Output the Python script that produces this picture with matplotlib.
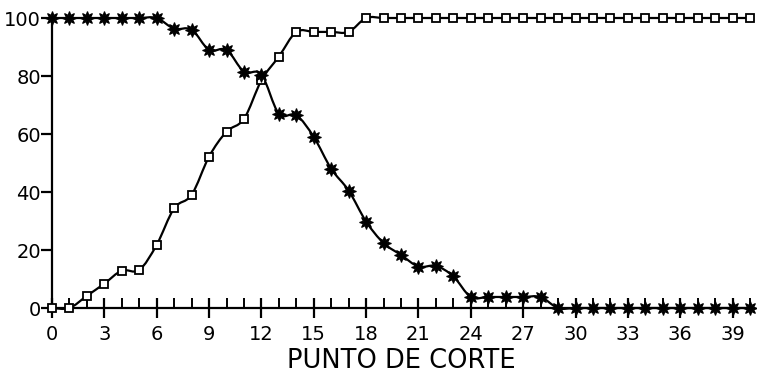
import numpy as np
import matplotlib
matplotlib.use("Agg")
import matplotlib.pyplot as plt
from matplotlib.path import Path
from matplotlib.patches import PathPatch

x = list(range(41))
stars = [100, 100, 100, 100, 100, 100, 100, 96.3, 96, 89, 89, 81.5, 80.5, 67, 66.5, 59,
         48, 40.5, 29.8, 22.4, 18.3, 14.3, 14.5, 10.9, 3.8, 3.8, 3.8, 3.8, 3.8,
         0, 0, 0, 0, 0, 0, 0, 0, 0, 0, 0, 0]
squares = [0, 0, 4.2, 8.4, 12.9, 13.1, 21.8, 34.4, 39, 52.2, 60.8, 65.2, 78.5, 86.7, 95.2,
           95.2, 95.2, 95.2, 100, 100, 100, 100, 100, 100, 100, 100, 100, 100, 100,
           100, 100, 100, 100, 100, 100, 100, 100, 100, 100, 100, 100]
xticks = list(range(0, 40, 3))
yticks = [0, 20, 40, 60, 80, 100]
xlabel = "PUNTO DE CORTE"

plt.rcParams['font.family'] = ['DejaVu Sans']

fig = plt.figure(figsize=(7.57, 3.75), dpi=100)
ax = fig.add_axes([52/757, 1-308/375, 698/757, 290/375])
ax.set_xlim(0, 40)
ax.set_ylim(0, 100)


def smooth_path(xs, ys):
    xs = np.asarray(xs, float)
    ys = np.asarray(ys, float)
    verts = [(xs[0], ys[0])]
    codes = [Path.MOVETO]
    n = len(xs)
    for i in range(n - 1):
        p0 = (xs[max(i-1, 0)], ys[max(i-1, 0)])
        p1 = (xs[i], ys[i])
        p2 = (xs[i+1], ys[i+1])
        p3 = (xs[min(i+2, n-1)], ys[min(i+2, n-1)])
        t = 0.5
        c1 = (p1[0] + (p2[0]-p0[0])*t/3, p1[1] + (p2[1]-p0[1])*t/3)
        c2 = (p2[0] - (p3[0]-p1[0])*t/3, p2[1] - (p3[1]-p1[1])*t/3)
        verts += [c1, c2, p2]
        codes += [Path.CURVE4]*3
    return Path(verts, codes)


for ys in (stars, squares):
    ax.add_patch(PathPatch(smooth_path(x, ys), fill=False, lw=1.6,
                           edgecolor='black', clip_on=False, zorder=2))

ax.plot(x, squares, linestyle='none', marker='s', markersize=6.3,
        markerfacecolor='white', markeredgecolor='black', markeredgewidth=1.3,
        clip_on=False, zorder=3)
ax.plot(x, stars, linestyle='none', marker=(8, 1, 0), markersize=10,
        markerfacecolor='black', markeredgecolor='black', markeredgewidth=0.8,
        clip_on=False, zorder=4)

for s in ('top', 'right'):
    ax.spines[s].set_visible(False)
ax.spines['left'].set_linewidth(1.6)
ax.spines['bottom'].set_linewidth(1.6)

ax.set_xticks(xticks)
ax.set_xticks(list(range(41)), minor=True)
ax.set_yticks(yticks)
ax.tick_params(axis='x', which='major', direction='inout', length=14, width=1.6,
               labelsize=14, pad=5)
ax.tick_params(axis='x', which='minor', direction='in', length=7, width=1.4)
ax.tick_params(axis='y', which='major', direction='out', length=8, width=1.6,
               labelsize=14, pad=0)
ax.set_xlabel(xlabel, fontsize=18.5, labelpad=3)

fig.savefig("out.png", dpi=100)
